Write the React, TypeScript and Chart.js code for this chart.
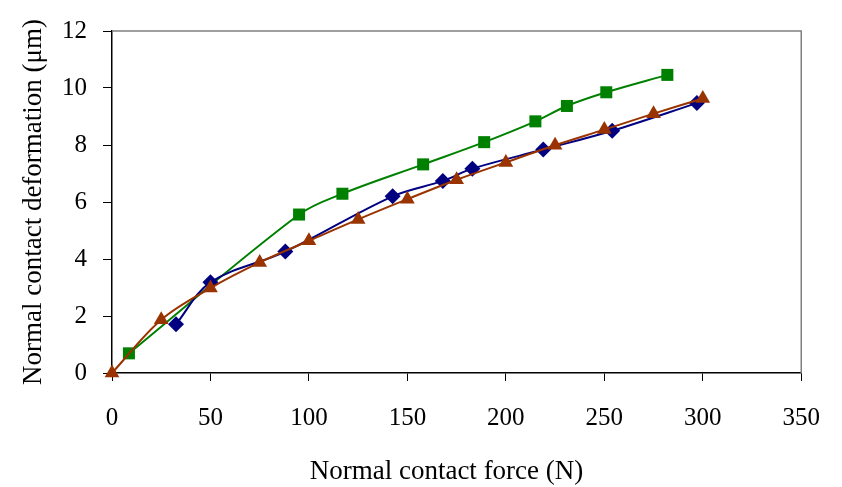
import React, { useEffect, useRef } from "react";
import { Chart, registerables } from "chart.js";

Chart.register(...registerables);

const forceBlue = [32.5, 50, 88, 142.5, 168, 183, 219, 254, 297];
const deformBlue = [1.71, 3.18, 4.26, 6.2, 6.74, 7.17, 7.84, 8.5, 9.47];

const forceGreen = [8.6, 95, 117, 158, 189, 215, 231, 251, 282];
const deformGreen = [0.69, 5.56, 6.29, 7.32, 8.1, 8.83, 9.37, 9.85, 10.46];

const forceBrown = [0, 25, 50, 75, 100, 125, 150, 175, 200, 225, 250, 275, 300];
const deformBrown = [0, 1.87, 2.98, 3.88, 4.64, 5.39, 6.1, 6.78, 7.39, 7.99, 8.54, 9.1, 9.63];

const xTitle = "Normal contact force (N)   ";
const yTitle = "Normal contact deformation (\u03bcm)";

const FONT = "'Liberation Serif', 'Times New Roman', serif";

const toPoints = (xs: number[], ys: number[]) => xs.map((x, i) => ({ x, y: ys[i] }));

const frameBorder = {
  id: "frameBorder",
  beforeDatasetsDraw(chart: any) {
    const { ctx, chartArea } = chart;
    ctx.save();
    ctx.strokeStyle = "#808080";
    ctx.lineWidth = 1.5;
    ctx.beginPath();
    ctx.moveTo(chartArea.left, chartArea.top);
    ctx.lineTo(chartArea.right, chartArea.top);
    ctx.lineTo(chartArea.right, chartArea.bottom);
    ctx.stroke();
    ctx.restore();
  },
};

export default function App() {
  const ref = useRef<HTMLCanvasElement | null>(null);

  useEffect(() => {
    if (!ref.current) return;
    const chart = new Chart(ref.current, {
      type: "line",
      data: {
        datasets: [
          {
            label: "brown",
            data: toPoints(forceBrown, deformBrown),
            borderColor: "#993300",
            backgroundColor: "#993300",
            borderWidth: 2,
            pointStyle: "triangle",
            pointRadius: 8.5,
            pointBorderWidth: 0,
            tension: 0.35,
            clip: false,
          },
          {
            label: "blue",
            data: toPoints(forceBlue, deformBlue),
            borderColor: "#000080",
            backgroundColor: "#000080",
            borderWidth: 2,
            pointStyle: "rectRot",
            pointRadius: 8,
            pointBorderWidth: 0,
            tension: 0.35,
            clip: false,
          },
          {
            label: "green",
            data: toPoints(forceGreen, deformGreen),
            borderColor: "#008000",
            backgroundColor: "#008000",
            borderWidth: 2,
            pointStyle: "rect",
            pointRadius: 8.5,
            pointBorderWidth: 0,
            tension: 0.35,
            clip: false,
          },
        ],
      },
      options: {
        responsive: false,
        animation: false,
        layout: { padding: { top: 17, right: 38, bottom: 0, left: 0 } },
        plugins: {
          legend: { display: false },
          tooltip: { enabled: false },
        },
        scales: {
          x: {
            type: "linear",
            min: 0,
            max: 350,
            afterFit: (s: any) => {
              s.height = 114;
            },
            ticks: {
              stepSize: 50,
              color: "#000",
              padding: 22,
              font: { family: FONT, size: 25 },
              maxRotation: 0,
            },
            grid: {
              drawOnChartArea: false,
              drawTicks: true,
              tickLength: 8,
              tickColor: "#000",
              tickWidth: 1,
            },
            border: { display: true, color: "#000", width: 1.5 },
            title: {
              display: true,
              text: xTitle,
              color: "#000",
              font: { family: FONT, size: 27, lineHeight: 1.1 },
              padding: { top: 0, bottom: 0 },
            },
          },
          y: {
            type: "linear",
            min: 0,
            max: 12,
            afterFit: (s: any) => {
              s.width = 112;
            },
            ticks: {
              stepSize: 2,
              color: "#000",
              padding: 16,
              font: { family: FONT, size: 25 },
            },
            grid: {
              drawOnChartArea: false,
              drawTicks: true,
              tickLength: 9,
              tickColor: "#000",
              tickWidth: 1,
            },
            border: { display: true, color: "#000", width: 1.5 },
            title: {
              display: true,
              text: yTitle,
              color: "#000",
              font: { family: FONT, size: 27, lineHeight: 1.1 },
              padding: { top: 19, bottom: 0 },
            },
          },
        },
      },
      plugins: [frameBorder],
    } as any);
    return () => chart.destroy();
  }, []);

  return (
    <div style={{ position: "absolute", left: 0, top: 0, width: 842, height: 487 }}>
      <canvas ref={ref} width={842} height={487} style={{ display: "block" }} />
    </div>
  );
}
